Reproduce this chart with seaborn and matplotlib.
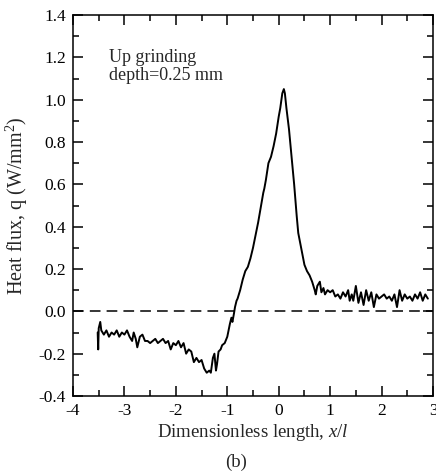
import matplotlib
matplotlib.use("Agg")
import matplotlib.pyplot as plt
import pandas as pd
import seaborn as sns
import numpy as np

# heat flux trace (x/l, q in W/mm^2)
x_l = [-3.52, -3.51, -3.50, -3.47, -3.45, -3.40, -3.35, -3.30, -3.25, -3.20,
       -3.15, -3.10, -3.05, -3.00, -2.95, -2.90, -2.85, -2.82, -2.78, -2.75,
       -2.70, -2.65, -2.60, -2.55, -2.50, -2.45, -2.40, -2.35, -2.30, -2.25,
       -2.20, -2.15, -2.10, -2.05, -2.00, -1.95, -1.90, -1.85, -1.80, -1.75,
       -1.70, -1.65, -1.60, -1.55, -1.50, -1.45, -1.40, -1.35, -1.32, -1.28,
       -1.25, -1.22, -1.20, -1.17, -1.13, -1.10, -1.05, -1.00, -0.95, -0.92,
       -0.90, -0.87, -0.85, -0.82, -0.80, -0.75, -0.70, -0.65, -0.60, -0.55,
       -0.50, -0.45, -0.40, -0.35, -0.30, -0.28, -0.25, -0.20, -0.15, -0.10,
       -0.05, 0.00, 0.03, 0.07, 0.10, 0.12, 0.15, 0.20, 0.25, 0.30,
       0.35, 0.38, 0.42, 0.45, 0.50, 0.55, 0.60, 0.65, 0.70, 0.72,
       0.75, 0.80, 0.83, 0.87, 0.90, 0.95, 1.00, 1.05, 1.10, 1.15,
       1.20, 1.25, 1.30, 1.35, 1.38, 1.42, 1.45, 1.50, 1.55, 1.60,
       1.65, 1.70, 1.75, 1.80, 1.85, 1.90, 1.95, 2.00, 2.05, 2.10,
       2.15, 2.20, 2.25, 2.30, 2.35, 2.40, 2.45, 2.50, 2.55, 2.60,
       2.65, 2.70, 2.75, 2.80, 2.85, 2.90]
q = [-0.10, -0.18, -0.08, -0.05, -0.09, -0.11, -0.09, -0.12, -0.10, -0.11,
     -0.09, -0.12, -0.10, -0.11, -0.09, -0.12, -0.14, -0.10, -0.13, -0.17,
     -0.12, -0.11, -0.14, -0.14, -0.15, -0.14, -0.13, -0.15, -0.14, -0.13,
     -0.15, -0.14, -0.18, -0.15, -0.16, -0.14, -0.17, -0.15, -0.20, -0.18,
     -0.19, -0.24, -0.22, -0.24, -0.23, -0.27, -0.29, -0.28, -0.29, -0.22,
     -0.20, -0.28, -0.25, -0.19, -0.18, -0.16, -0.15, -0.12, -0.06, -0.03,
     -0.05, -0.01, 0.02, 0.05, 0.06, 0.10, 0.15, 0.19, 0.21, 0.25,
     0.30, 0.36, 0.42, 0.49, 0.56, 0.58, 0.62, 0.70, 0.73, 0.78,
     0.84, 0.92, 0.96, 1.03, 1.05, 1.03, 0.96, 0.86, 0.73, 0.60,
     0.45, 0.37, 0.32, 0.28, 0.22, 0.19, 0.17, 0.14, 0.10, 0.08,
     0.12, 0.14, 0.09, 0.11, 0.08, 0.10, 0.09, 0.10, 0.07, 0.08,
     0.06, 0.09, 0.07, 0.10, 0.05, 0.08, 0.05, 0.12, 0.04, 0.09,
     0.03, 0.10, 0.05, 0.09, 0.02, 0.08, 0.06, 0.07, 0.08, 0.06,
     0.07, 0.05, 0.08, 0.02, 0.10, 0.05, 0.08, 0.06, 0.07, 0.05,
     0.08, 0.06, 0.09, 0.05, 0.08, 0.06]

df = pd.DataFrame({"x": x_l, "q": q})

sns.set_style("ticks")
plt.rcParams["font.family"] = ["Liberation Serif", "DejaVu Serif"]
plt.rcParams["mathtext.fontset"] = "custom"
plt.rcParams["mathtext.rm"] = "Liberation Serif"
plt.rcParams["mathtext.it"] = "Liberation Serif:italic"
plt.rcParams["axes.unicode_minus"] = False

fig = plt.figure(figsize=(4.36, 4.74), dpi=100)
ax = fig.add_axes([73 / 436, 1 - 396 / 474, 360 / 436, 381 / 474])

sns.lineplot(data=df, x="x", y="q", ax=ax, color="black", linewidth=1.4,
             sort=False, estimator=None)
ax.axhline(0, color="black", linestyle=(0, (7, 4)), linewidth=1.1)

ax.set_xlim(-4, 3)
ax.set_ylim(-0.4, 1.4)
ax.set_xticks(np.arange(-4, 4, 1))
ax.set_xticks(np.arange(-4, 3.01, 0.5), minor=True)
ax.set_yticks(np.arange(-0.4, 1.41, 0.2))
ax.set_yticks(np.arange(-0.4, 1.41, 0.1), minor=True)
ax.set_xticklabels([str(v) for v in range(-4, 4)])
ax.set_yticklabels(["%.1f" % v for v in np.arange(-0.4, 1.41, 0.2)])
ax.tick_params(which="both", direction="in", top=True, right=True,
               labelsize=12.5, colors="black", width=1.1)
ax.tick_params(which="major", length=7, pad=5)
ax.tick_params(which="minor", length=4)
for s in ax.spines.values():
    s.set_linewidth(1.1)
    s.set_color("black")

ax.set_xlabel("Dimensionless length, $\\mathit{x/l}$", fontsize=13.5, labelpad=2)
ax.set_ylabel("Heat flux, q (W/mm$^2$)", fontsize=14.5, labelpad=6)
ax.text(0.1, 0.91, "Up grinding\ndepth=0.25 mm", transform=ax.transAxes,
        fontsize=13, va="top", ha="left", linespacing=1.05)
fig.text(0.5 + 36 / 436 / 2, 1 - 462 / 474, "(b)", fontsize=13.5,
         ha="center", va="center")

fig.savefig("out.png", dpi=100)
